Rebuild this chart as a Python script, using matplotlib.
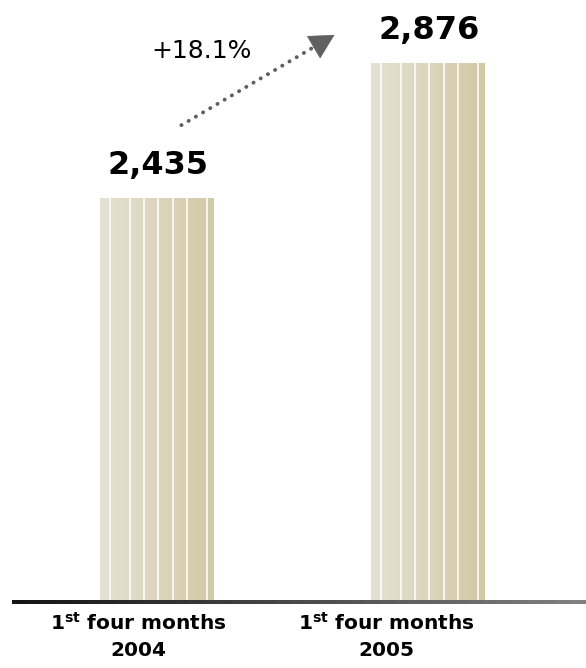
import numpy as np
import matplotlib.pyplot as plt
from matplotlib.collections import LineCollection
from matplotlib.colors import LinearSegmentedColormap
import matplotlib.transforms as mtransforms

periods = ["2004", "2005"]
values = [2435, 2876]
growth = "+18.1%"

fig = plt.figure(figsize=(5.86, 6.68), dpi=100)
ax = fig.add_axes([0.0205, 0.0988, 0.9795, 0.9012])

base = 1115
x = np.arange(len(values))
bar_w = 0.42

# beige gradient with thin white dividers inside each bar
beige = LinearSegmentedColormap.from_list("beige", ["#e6e2d3", "#d1c9a7"])
grad = np.linspace(0, 1, 256).reshape(1, -1)
dividers = [0.09, 0.26, 0.385, 0.51, 0.64, 0.765, 0.94]
bars = ax.bar(x, values, width=bar_w, color="none", edgecolor="none")
for b, v in zip(bars, values):
    x0, w = b.get_x(), b.get_width()
    im = ax.imshow(grad, cmap=beige, aspect="auto",
                   extent=[x0, x0 + w, base, v], zorder=1)
    im.set_clip_path(b)
    for d in dividers:
        ax.plot([x0 + d * w] * 2, [base, v], color="white", lw=1.1, zorder=2)

ax.set_xlim(-0.535, 1.583)
ax.set_ylim(base, 3082)
ax.axis("off")

for xi, v in zip(x, values):
    ax.annotate(f"{v:,}", (xi, v), xytext=(1, 17), textcoords="offset points",
                ha="center", va="baseline", fontsize=23, fontweight="bold")

# baseline that fades from dark to grey
xs = np.linspace(-0.535, 1.583, 40)
segs = [[(xs[i], base), (xs[min(i + 2, len(xs) - 1)], base)] for i in range(len(xs) - 1)]
shade = np.linspace(0.08, 0.5, len(segs))
lc = LineCollection(segs, colors=[(s, s, s) for s in shade], linewidths=1.6,
                    antialiaseds=False, zorder=3, clip_on=False)
ax.add_collection(lc)

# dotted growth arrow with a solid head
start = (0.09, 2673)
tip = (0.655, 2968)
neck = (start[0] + 0.86 * (tip[0] - start[0]), start[1] + 0.86 * (tip[1] - start[1]))
ax.plot([start[0], neck[0]], [start[1], neck[1]], color="#606060", lw=2.8,
        linestyle=(0, (0.05, 2.1)), dash_capstyle="round", zorder=4)
ax.annotate("", xy=tip, xytext=neck,
            arrowprops=dict(arrowstyle="-|>,head_length=1.4,head_width=0.75",
                            color="#606060", lw=0.5, mutation_scale=12,
                            shrinkA=0, shrinkB=0), zorder=4)
ax.text(0.166, 2915, growth, ha="center", va="center", fontsize=18)

label_x = [-0.07, 0.845]
trans = mtransforms.blended_transform_factory(ax.transData, ax.transAxes)
for lx, p in zip(label_x, periods):
    ax.text(lx, -0.016, r"$\mathbf{1^{st}}$ four months" + "\n" + p,
            transform=trans, ha="center", va="top", fontsize=14.5,
            fontweight="bold", linespacing=1.5)

fig.savefig("out.png", dpi=100)
